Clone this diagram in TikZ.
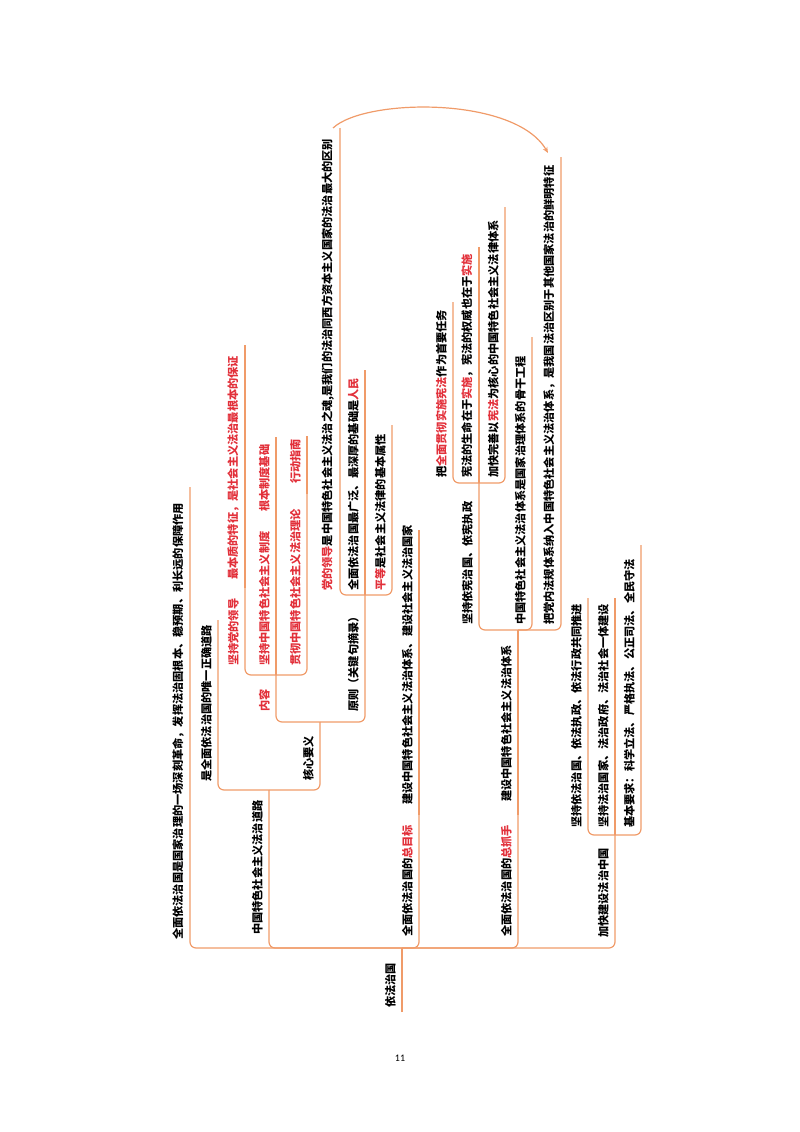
\documentclass[tikz,border=0pt]{standalone}
\usepackage{fontspec}
\setmainfont{Noto Sans CJK SC}
\newfontfamily\pnfont{Carlito}
\usetikzlibrary{arrows.meta}
\definecolor{lineor}{RGB}{240,155,105}
\definecolor{hlred}{RGB}{226,48,58}
\newcommand{\hl}[1]{\textcolor{hlred}{#1}}
\newcommand{\mmn}[5]{%
  \coordinate (#1-top) at (#2,#4);
  \node[lbl] (#1) at (#2-6,#3) {#5};
}
\begin{document}
\begin{tikzpicture}[x=1pt,y=-1pt,
  conn/.style={draw=lineor, line width=1.2pt, rounded corners=6pt},
  lbl/.style={rotate=90, anchor=south west, inner sep=0pt,
    font=\fontsize{11.2}{12}\selectfont\bfseries}]
\useasboundingbox (0,0) rectangle (800,1132);

% root
\coordinate (R-base) at (402,1012);
\mmn{R}{402}{1008}{948}{依法治国}
% level 1
\mmn{A}{190}{940}{487}{全面依法治国是国家治理的一场深刻革命，发挥法治固根本、稳预期、利长远的保障作用}
\mmn{B}{269}{935}{790}{中国特色社会主义法治道路}
\mmn{C}{419}{937}{815}{全面依法治国的\hl{总目标}}
\mmn{D}{518}{937}{815}{全面依法治国的\hl{总抓手}}
\mmn{E}{615}{938}{835}{加快建设法治中国}
% B subtree
\mmn{B1}{218}{782}{620}{是全面依法治国的唯一正确道路}
\mmn{B2}{320}{781}{722}{核心要义}
\mmn{B21}{276}{712}{675}{\hl{内容}}
\mmn{B211}{245}{666}{588}{\hl{坚持党的领导}}
\mmn{B2111}{245}{580}{345}{\hl{最本质的特征，是社会主义法治最根本的保证}}
\mmn{B212}{276}{666}{522}{\hl{坚持中国特色社会主义制度}}
\mmn{B2121}{276}{512}{437}{\hl{根本制度基础}}
\mmn{B213}{307}{666}{494}{\hl{贯彻中国特色社会主义法治理论}}
\mmn{B2131}{307}{484}{436}{\hl{行动指南}}
\mmn{B22}{365}{712}{595}{原则（关键句摘录）}
\mmn{B221}{340}{591}{128}{\hl{党的领导}是中国特色社会主义法治之魂,是我们的法治同西方资本主义国家的法治最大的区别}
\mmn{B222}{365}{591}{370}{全面依法治国最广泛、最深厚的基础是\hl{人民}}
\mmn{B223}{392}{591}{425}{\hl{平等}是社会主义法律的基本属性}
% C subtree
\mmn{C1}{419}{805}{530}{建设中国特色社会主义法治体系、建设社会主义法治国家}
% D subtree
\mmn{D1}{518}{802}{630}{建设中国特色社会主义法治体系}
\mmn{D11}{479}{625}{483}{坚持依宪治国、依宪执政}
\mmn{D111}{453}{478}{302}{把\hl{全面贯彻实施宪法}作为首要任务}
\mmn{D112}{479}{478}{247}{宪法的生命在于\hl{实施}，宪法的权威也在于\hl{实施}}
\mmn{D113}{505}{478}{207}{加快完善以\hl{宪法}为核心的中国特色社会主义法律体系}
\mmn{D12}{532}{625}{337}{中国特色社会主义法治体系是国家治理体系的骨干工程}
\mmn{D13}{561}{625}{157}{把党内法规体系纳入中国特色社会主义法治体系，是我国法治区别于其他国家法治的鲜明特征}
% E subtree
\mmn{E1}{588}{828}{598}{坚持依法治国、依法执政、依法行政共同推进}
\mmn{E2}{615}{828}{598}{坚持法治国家、法治政府、法治社会一体建设}
\mmn{E3}{641}{828}{545}{基本要求：科学立法、严格执法、公正司法、全民守法}

% connectors
\draw[conn] (R-base) -- (R-top);
\foreach \p/\c in {R/A,R/B,R/C,R/D,R/E,B/B1,B/B2,B2/B21,B2/B22,B21/B211,B21/B213,
  B22/B221,B22/B223,D1/D11,D1/D12,D1/D13,D11/D111,D11/D113,E/E1,E/E3}
  \draw[conn] (\p-top) -| (\c-top);
\foreach \p/\c in {B21/B212,B211/B2111,B212/B2121,B213/B2131,B22/B222,C/C1,D/D1,D11/D112,E/E2}
  \draw[conn] (\p-top) -- (\c-top);

% arc arrow
\draw[conn, -{Stealth[length=6pt,width=5pt]}] ([xshift=-7pt]B221-top)
  .. controls (365,98) and (515,96) .. ([xshift=-13pt,yshift=4pt]D13-top);

% page number
\node[font=\pnfont\fontsize{10}{12}\selectfont, inner sep=0pt] (pn) at (400,1058) {11};
\end{tikzpicture}
\end{document}
